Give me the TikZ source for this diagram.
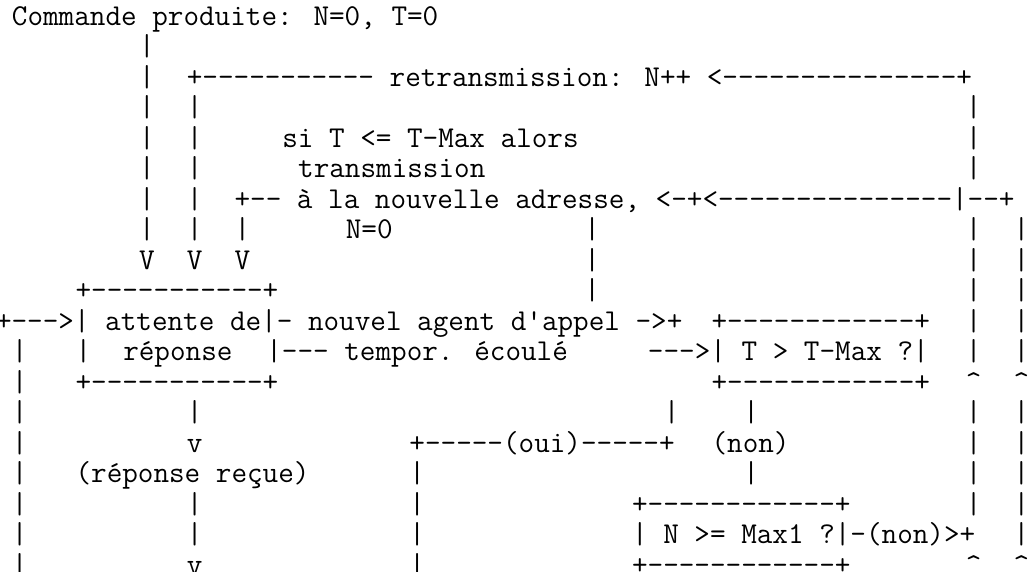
\documentclass[tikz,border=0pt]{standalone}
\usepackage{fontspec}
\usetikzlibrary{positioning}

\begin{document}
\begin{tikzpicture}[
    x=15.9pt, y=-30.5pt,
    txt/.style={anchor=base west, inner sep=0pt, outer sep=0pt, font=\ttfamily\fontsize{30.29}{30.5}\selectfont}
]
\useasboundingbox (0.2484,-0.8197) rectangle (65.09,17.934);
% top: order and the two return paths
\node[txt] (cmd) at (1,0) {Commande produite: N=0, T=0};
\foreach \r in {1,...,7} \node[txt] (ba\r) at (9,\r) {|};
\node[txt] (retr) at (12,2) {+----------- retransmission: N++ <---------------+};
\foreach \r in {3,...,7} \node[txt] (bb\r) at (12,\r) {|};
\foreach \r in {3,4,5} \node[txt] (br\r) at (61,\r) {|};
\node[txt] (si) at (18,4) {si T <= T-Max alors};
\node[txt] (trans) at (19,5) {transmission};
\node[txt] (nouv) at (15,6) {+-- à la nouvelle adresse, <-+<---------------|--+};
\node[txt] (bc7) at (15,7) {|};
\node[txt] (nzero) at (22,7) {N=0};
\foreach \c in {9,12,15} \node[txt] (arr\c) at (\c,8) {V};
\foreach \r in {7,8,9} \node[txt] (bd\r) at (37,\r) {|};
% right side returns
\foreach \r in {7,...,11} {
  \node[txt] (re\r) at (61,\r) {|};
  \node[txt] (rf\r) at (64,\r) {|};
}
\node[txt] (upe12) at (61,12) {\textasciicircum};
\node[txt] (upf12) at (64,12) {\textasciicircum};
\foreach \r in {13,...,16} \node[txt] (re\r) at (61,\r) {|};
\foreach \r in {13,...,17} \node[txt] (rf\r) at (64,\r) {|};
\node[txt] (upe18) at (61,18) {\textasciicircum};
\node[txt] (upf18) at (64,18) {\textasciicircum};
% waiting box
\node[txt] (waittop) at (5,9) {+-----------+};
\node[txt] (wait) at (0,10) {+--->| attente de|- nouvel agent d'appel ->+};
\node[txt] (waitl) at (5,11) {|};
\node[txt] (rep) at (8,11) {réponse};
\node[txt] (tempo) at (17,11) {|--- tempor. écoulé};
\node[txt] (waitbot) at (5,12) {+-----------+};
\foreach \r in {11,...,18} \node[txt] (loop\r) at (1,\r) {|};
% test T > T-Max
\node[txt] (ttop) at (45,10) {+------------+};
\node[txt] (tmax) at (41,11) {--->| T > T-Max ?|};
\node[txt] (tbot) at (45,12) {+------------+};
\node[txt] (oa) at (42,13) {|};
\node[txt] (na) at (47,13) {|};
\node[txt] (oui) at (26,14) {+-----(oui)-----+};
\node[txt] (non) at (45,14) {(non)};
\node[txt] (nb) at (47,15) {|};
\foreach \r in {15,...,18} \node[txt] (ob\r) at (26,\r) {|};
% test N >= Max1
\node[txt] (mtop) at (40,16) {+------------+};
\node[txt] (max) at (40,17) {| N >= Max1 ?|-(non)>+};
\node[txt] (mbot) at (40,18) {+------------+};
% response received
\foreach \r in {13,16,17} \node[txt] (rr\r) at (12,\r) {|};
\node[txt] (rv14) at (12,14) {v};
\node[txt] (recu) at (5,15) {(réponse reçue)};
\node[txt] (rv18) at (12,18) {v};
\end{tikzpicture}
\end{document}
